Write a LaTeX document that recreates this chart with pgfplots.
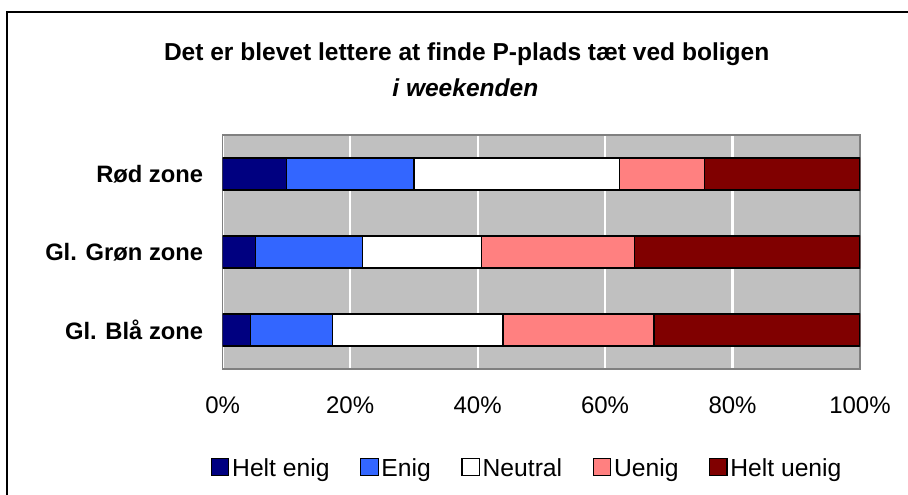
\documentclass[border=0pt]{standalone}
\usepackage{pgfplots}
\pgfplotsset{compat=1.18}
\usepackage{fontspec}
\setmainfont{Liberation Sans}
\definecolor{heltenig}{HTML}{000080}
\definecolor{enig}{HTML}{3366FF}
\definecolor{uenig}{HTML}{FF8080}
\definecolor{heltuenig}{HTML}{800000}
\definecolor{bgray}{HTML}{C0C0C0}
\definecolor{bordergray}{HTML}{808080}
\begin{document}
\begin{tikzpicture}
\useasboundingbox (0pt,0pt) rectangle (681pt,-371.25pt);
\fill[white] (0pt,0pt) rectangle (681pt,-371.25pt);
\draw[black, line width=1.5pt] (5.25pt,-371.25pt) -- (5.25pt,-9pt) -- (681pt,-9pt);
\node[font=\fontsize{18.4}{22}\selectfont\bfseries] at (350pt,-41pt) {Det er blevet lettere at finde P-plads tæt ved boligen};
\node[font=\fontsize{18.4}{22}\selectfont\bfseries\itshape] at (349pt,-66pt) {i weekenden};
\begin{axis}[
  at={(167pt,-276.75pt)}, anchor=south west,
  scale only axis, width=478pt, height=175.5pt,
  xbar stacked, bar width=24pt,
  xmin=0, xmax=100, ymin=-0.5, ymax=2.5,
  xtick={0,20,40,60,80,100},
  xticklabel={\pgfmathprintnumber{\tick}\%},
  ytick={0,1,2},
  yticklabels={Gl. Blå zone, Gl. Grøn zone, Rød zone},
  /pgf/number format/assume math mode=true,
  xticklabel style={font=\fontsize{18}{21}\selectfont, anchor=center, yshift=-27pt},
  yticklabel style={font=\fontsize{17.8}{21}\selectfont\bfseries, anchor=east, inner sep=0pt, xshift=-14.5pt},
  major tick length=0pt,
  axis background/.style={fill=bgray},
  axis line style={draw=bordergray, line width=0.8pt},
  xmajorgrids, grid style={white, line width=1.6pt},
  legend columns=5,
  legend style={at={(-0.025,-0.42)}, anchor=west, draw=none, fill=none,
    font=\fontsize{18.5}{21}\selectfont,
    /tikz/every even column/.append style={column sep=23pt},
    nodes={inner sep=0pt, text depth=0pt}},
  legend image code/.code={\draw[#1, draw=black, line width=0.8pt] (0pt,-6.5pt) rectangle (13pt,6.5pt); \path (15pt,0pt);},
]
\addplot+[fill=heltenig, draw=black, line width=1pt] coordinates {(4.4,0) (5.2,1) (10.0,2)};
\addplot+[fill=enig, draw=black, line width=1pt] coordinates {(12.8,0) (16.7,1) (20.0,2)};
\addplot+[fill=white, draw=black, line width=1pt] coordinates {(26.8,0) (18.7,1) (32.3,2)};
\addplot+[fill=uenig, draw=black, line width=1pt] coordinates {(23.7,0) (24.0,1) (13.3,2)};
\addplot+[fill=heltuenig, draw=black, line width=1pt] coordinates {(32.3,0) (35.4,1) (24.4,2)};
\legend{Helt enig, Enig, Neutral, Uenig, Helt uenig}
\end{axis}
\end{tikzpicture}
\end{document}
